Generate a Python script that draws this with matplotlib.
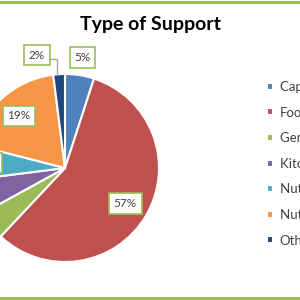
import numpy as np
import matplotlib
matplotlib.use("Agg")
import matplotlib.pyplot as plt

plt.rcParams['font.family'] = ['Lato', 'DejaVu Sans']

categories = ["Capital Equipment", "Food", "General Operating", "Kitchen Equipment",
              "Nutrition Education", "Nutrition Services", "Other"]
shares = [5, 57, 5, 6, 6, 19, 2]
colors = ["#4F81BD", "#C0504D", "#9BBB59", "#8064A2", "#4BACC6", "#F79646", "#1F497D"]

border = "#9BBB59"
fig = plt.figure(figsize=(3, 3), dpi=100)

# pie axes, partly outside the figure on the left (as in the cropped original)
W, H = 300, 300
cx, cy, r = 65, 132, 94  # pixel centre (y from bottom) and radius
ax = fig.add_axes([(cx - r) / W, (cy - r) / H, 2 * r / W, 2 * r / H])
wedges, _ = ax.pie(shares, colors=colors, startangle=90, counterclock=False,
                   radius=1, wedgeprops=dict(edgecolor="white", linewidth=1.5))
ax.set_xlim(-1, 1)
ax.set_ylim(-1, 1)
ax.set_aspect("equal")
ax.axis("off")

label_r = [1.19, 0.745, 1.2, 1.2, 0.81, 0.74, 1.2]
box = dict(boxstyle="square,pad=0.4", fc="white", ec=border, lw=1.2)
for i, w in enumerate(wedges):
    ang = np.deg2rad((w.theta1 + w.theta2) / 2)
    x, y = label_r[i] * np.cos(ang), label_r[i] * np.sin(ang)
    txt = f"{shares[i]}%"
    if i == len(wedges) - 1:
        ax.annotate(txt, xy=(-0.085, 0.99), xytext=(-0.30, 1.20),
                    ha="center", va="center", fontsize=8.5, color="#404040", bbox=box,
                    arrowprops=dict(arrowstyle="-", color="#A6A6A6", lw=1,
                                    connectionstyle="angle,angleA=0,angleB=90,rad=0",
                                    relpos=(1, 0.17), shrinkA=0, shrinkB=0),
                    annotation_clip=False)
    else:
        ax.text(x, y, txt, ha="center", va="center", fontsize=8.5, color="#404040",
                bbox=box, clip_on=False)

fig.text(0.5, 0.917, "Type of Support", ha="center", va="center", fontsize=14,
         fontweight="bold", color="black")

leg = fig.legend(wedges, categories, loc="upper left", bbox_to_anchor=(0.89, 0.73),
                 frameon=False, fontsize=9.5, labelcolor="#404040", handlelength=0.45,
                 handleheight=0.45, handletextpad=0.5, labelspacing=1.03,
                 borderaxespad=0, borderpad=0)

# green chart-area border (top and bottom visible)
fig.add_artist(plt.Line2D([0, 1], [0.995, 0.995], color=border, lw=2.2, transform=fig.transFigure))
fig.add_artist(plt.Line2D([0, 1], [0.008, 0.008], color=border, lw=2.2, transform=fig.transFigure))

fig.savefig("out.png", dpi=100)
